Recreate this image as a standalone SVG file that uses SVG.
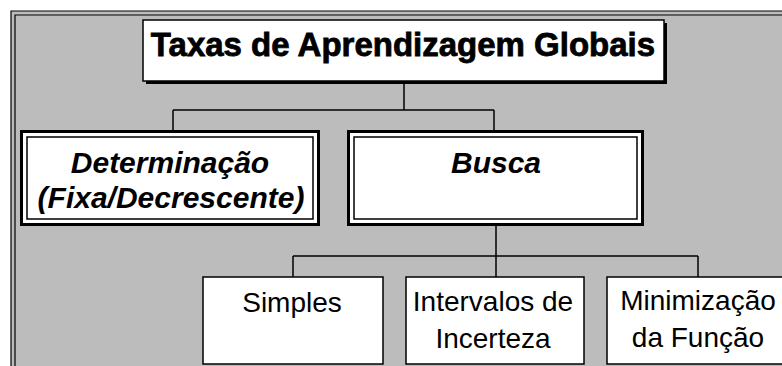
<svg xmlns="http://www.w3.org/2000/svg" width="782" height="366" viewBox="0 0 782 366">
<style>
.bg{fill:#bcbcbc}
.frame{fill:none;stroke:#000;stroke-width:1.2}
.conn{fill:none;stroke:#000;stroke-width:1.5}
.title{font-family:"Liberation Sans",Arial,sans-serif;font-weight:bold;font-size:33px;fill:#000;stroke:#000;stroke-width:0.8;text-anchor:middle}
.mid{font-family:"Liberation Sans",Arial,sans-serif;font-weight:bold;font-style:italic;font-size:30px;fill:#000;text-anchor:middle}
.low{font-family:"Liberation Sans",Arial,sans-serif;font-size:28px;fill:#000;text-anchor:middle}
.box{fill:#fff;stroke:#000;stroke-width:1.5}
.outer{fill:#fff;stroke:#000;stroke-width:3}
.inner{fill:none;stroke:#000;stroke-width:1.5}
</style>
<rect x="0" y="0" width="782" height="366" fill="#fff"/>
<rect class="bg" x="11" y="11" width="771" height="355"/>
<path class="frame" d="M11,366 V11 H782 M15,366 V15 H782"/>
<g id="connectors">
<path class="conn" d="M404,81 V110 M173,110 H494 M173,110 V130 M494,110 V130"/>
<path class="conn" d="M496,226 V256 M293,256 H698 M293,256 V277 M496,256 V277 M698,256 V277"/>
</g>
<g id="title">
<rect x="146" y="23" width="521" height="61" fill="#000"/>
<rect class="box" x="143" y="20" width="521" height="61"/>
<text class="title" x="403" y="56">Taxas de Aprendizagem Globais</text>
</g>
<g id="determinacao">
<rect class="outer" x="21.5" y="131.5" width="297" height="93"/>
<rect class="inner" x="27" y="137" width="286" height="82"/>
<text class="mid" x="170" y="173">Determinação</text>
<text class="mid" x="171" y="208">(Fixa/Decrescente)</text>
</g>
<g id="busca">
<rect class="outer" x="348.5" y="131.5" width="294" height="93"/>
<rect class="inner" x="354" y="137" width="283" height="82"/>
<text class="mid" x="496" y="173">Busca</text>
</g>
<g id="simples">
<rect class="box" x="203" y="277" width="180" height="87"/>
<text class="low" x="292" y="312">Simples</text>
</g>
<g id="intervalos">
<rect class="box" x="406" y="277" width="178" height="87"/>
<text class="low" x="493" y="311">Intervalos de</text>
<text class="low" x="493" y="348">Incerteza</text>
</g>
<g id="minimizacao">
<rect class="box" x="607" y="277" width="190" height="87"/>
<text class="low" x="698" y="310">Minimização</text>
<text class="low" x="698" y="347">da Função</text>
</g>
</svg>
